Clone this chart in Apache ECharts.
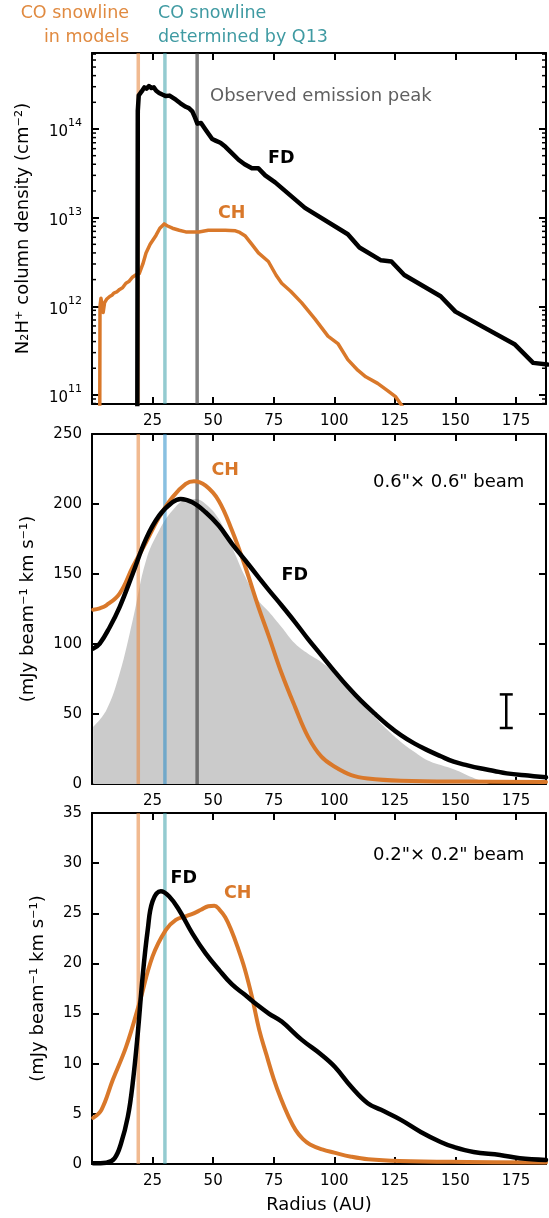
<!DOCTYPE html>
<html><head><meta charset="utf-8">
<script src="https://cdn.jsdelivr.net/npm/echarts@6/dist/echarts.min.js"></script>
<style>html,body{margin:0;padding:0;background:#fff}#c{width:549px;height:1218px}</style>
</head><body><div id="c"></div>
<script>
// ---------- data ----------
const X_MIN = 0, X_MAX = 187.4;
const snowlineModels = 19.1;   // AU
const snowlineQ13 = 30.1;      // AU
const observedPeak = 43.4;     // AU

// Panel 1: N2H+ column density (cm^-2)
const fdColR = [18.7, 18.9, 19.3, 20.5, 21.6, 22.5, 23.5, 24.5, 25.5, 26.5, 27.7, 29, 30.5, 32, 34.6, 36.5, 38.7, 40, 41.4, 42.5, 43.5, 45, 46.9, 49.6, 51, 53, 55.1, 57, 60.5, 63, 66, 68.7, 71.5, 75.6, 87.9, 105.6, 110.4, 119.3, 123.6, 128.9, 143.9, 150, 174.6, 182.1, 188];
const fdColN = [5e10, 1.6e14, 2.4e14, 2.65e14, 2.95e14, 2.85e14, 3.05e14, 2.9e14, 2.95e14, 2.7e14, 2.55e14, 2.45e14, 2.35e14, 2.38e14, 2.14e14, 1.95e14, 1.78e14, 1.72e14, 1.58e14, 1.35e14, 1.15e14, 1.17e14, 9.8e13, 7.7e13, 7.4e13, 7.0e13, 6.3e13, 5.6e13, 4.5e13, 4.0e13, 3.6e13, 3.6e13, 3.0e13, 2.5e13, 1.29e13, 6.5e12, 4.6e12, 3.3e12, 3.2e12, 2.25e12, 1.3e12, 8.7e11, 3.7e11, 2.3e11, 2.2e11];
const chColR = [3.2, 3.3, 3.7, 4.2, 4.6, 5.2, 6, 7.3, 8.2, 9, 10.2, 11.4, 12.6, 14, 15.2, 16.8, 18.5, 19.5, 21, 22.3, 24, 26.4, 28, 29.8, 31, 33.2, 36, 38.7, 44.1, 48, 51, 55, 59.2, 61, 63.3, 66, 68.7, 72.8, 76, 78.3, 82, 86.5, 92, 97.4, 101.5, 105.6, 109.7, 113, 117.9, 122, 125.4, 128];
const chColN = [5e10, 1.0e12, 1.23e12, 1.0e12, 8.5e11, 1.1e12, 1.2e12, 1.29e12, 1.33e12, 1.41e12, 1.45e12, 1.55e12, 1.62e12, 1.82e12, 1.9e12, 2.14e12, 2.3e12, 2.34e12, 3.0e12, 4.0e12, 5.0e12, 6.3e12, 7.6e12, 8.5e12, 8.1e12, 7.6e12, 7.2e12, 6.9e12, 6.9e12, 7.2e12, 7.2e12, 7.2e12, 7.1e12, 6.8e12, 6.2e12, 5.0e12, 4.0e12, 3.2e12, 2.24e12, 1.82e12, 1.48e12, 1.1e12, 7.2e11, 4.6e11, 3.8e11, 2.5e11, 1.9e11, 1.6e11, 1.35e11, 1.12e11, 0.95e11, 7.5e10];
const logMinorTicks = [8e10, 9e10, 2e11, 3e11, 4e11, 5e11, 6e11, 7e11, 8e11, 9e11, 2e12, 3e12, 4e12, 5e12, 6e12, 7e12, 8e12, 9e12, 2e13, 3e13, 4e13, 5e13, 6e13, 7e13, 8e13, 9e13, 2e14, 3e14, 4e14, 5e14, 6e14, 7e14];

// Panel 2: 0.6" x 0.6" beam (mJy beam^-1 km s^-1)
const obsR = [0.5, 5.9, 11.4, 16.8, 22.3, 27.7, 33.2, 38.7, 42.8, 46.9, 52.3, 57.8, 63.3, 68.7, 73, 78.3, 83.8, 89.2, 94.7, 100.2, 105.6, 111, 116.6, 122, 127.5, 133, 138.4, 144, 149.3, 154, 158, 162, 165, 187.4];
const obsV = [40.8, 52.7, 78.9, 117, 159.7, 181, 195.3, 203, 203.6, 200, 189.4, 169.1, 147.8, 131.1, 123, 112, 100.3, 93, 87, 79, 69, 58, 48, 38.5, 30, 23, 17, 13.5, 10.5, 7, 4, 1.5, 0, 0];
const fd06R = [0.5, 3.2, 7.3, 11.4, 16.8, 22.3, 27.7, 33.2, 36.6, 41.4, 46.9, 52.3, 57.8, 63.3, 68.7, 73, 78.3, 83.8, 89.2, 94.7, 100.2, 105.6, 111, 116.6, 122, 127.5, 133, 138.4, 144, 149.3, 155, 160.2, 166, 171.2, 180, 187.4];
const fd06V = [96.7, 100.3, 112, 126.4, 150.2, 175.1, 191.7, 201.2, 203.6, 201.2, 194.1, 184.6, 171.6, 159.7, 147.8, 138.5, 127.5, 115.7, 103.5, 91.9, 80.3, 69.4, 59.5, 50.4, 42.2, 34.9, 29, 24.2, 19.8, 15.9, 13.3, 11.2, 9.3, 7.6, 6.0, 4.8];
const ch06R = [0.5, 3.2, 5.9, 11.4, 16.8, 22.3, 27.7, 33.2, 38.7, 42.1, 46.9, 52.3, 57.8, 63.3, 68.7, 73, 78.3, 83.8, 89.2, 94.7, 100.2, 107, 113.8, 127.5, 154.8, 187.4];
const ch06V = [124.5, 125.5, 127.6, 136, 155, 172.7, 190.5, 204.8, 214.3, 216.2, 213.1, 202.4, 181, 155, 126.4, 105.5, 78.9, 55.1, 33.7, 19.5, 12.3, 6.4, 4, 2.4, 1.7, 1.5];
const errBarR = 171, errBarLow = 40, errBarHigh = 64;

// Panel 3: 0.2" x 0.2" beam (mJy beam^-1 km s^-1)
const fd02R = [0.5, 5.9, 9.3, 12, 14.8, 16.8, 18.9, 20.9, 23, 25, 28.4, 31.8, 35.9, 41.4, 46.9, 52.3, 57.8, 63, 68, 73, 78.3, 86.5, 94.7, 100.2, 107, 113.8, 119.3, 127.5, 135.7, 143.9, 149.3, 157.5, 168.4, 176.6, 187.4];
const fd02V = [0.07, 0.13, 0.57, 2.07, 4.72, 8.05, 13.04, 18.7, 23.35, 26.2, 27.2, 26.7, 25.35, 23.0, 21.0, 19.4, 17.9, 16.9, 15.9, 15.0, 14.2, 12.4, 10.9, 9.7, 7.7, 6.06, 5.4, 4.4, 3.2, 2.2, 1.7, 1.2, 0.9, 0.57, 0.4];
const ch02R = [0.5, 3.9, 8.6, 14.1, 19.5, 25, 30.5, 34.6, 38.7, 42, 45, 48, 50.5, 52.5, 55, 57.5, 60, 63, 66, 69, 72, 75, 78, 81, 84, 87, 90, 95, 100, 107, 114, 127, 155, 187.4];
const ch02V = [4.6, 5.4, 8.4, 11.7, 16.0, 20.7, 23.35, 24.35, 24.7, 25.0, 25.35, 25.7, 25.75, 25.4, 24.6, 23.3, 21.7, 19.5, 16.7, 13.4, 10.9, 8.5, 6.5, 4.8, 3.4, 2.5, 1.95, 1.45, 1.13, 0.73, 0.47, 0.3, 0.2, 0.15];

// ---------- styling ----------
const FONT = 'DejaVu Sans';
const ORANGE = '#d9782a';
const C_OR_LINE = 'rgba(232,140,70,0.6)';
const C_TEAL_LINE = 'rgba(60,160,170,0.55)';
const C_BLUE_LINE = 'rgba(40,140,200,0.55)';
const C_GRAY_LINE = 'rgba(60,60,60,0.65)';

const zip = (a, b) => a.map((v, i) => [v, b[i]]);
const grids = [
  {left: 92, top: 53, width: 458, height: 351},
  {left: 92, top: 434, width: 458, height: 350},
  {left: 92, top: 813, width: 458, height: 351}
];
const axisLineStyle = {show: true, onZero: false, lineStyle: {color: '#000', width: 2}};
const tickStyle = {show: true, inside: true, length: 7, lineStyle: {color: '#000', width: 2}};

const xAxes = [];
grids.forEach((g, i) => {
  xAxes.push({
    type: 'value', gridIndex: i, min: X_MIN, max: X_MAX, interval: 25, position: 'bottom',
    axisLine: axisLineStyle, axisTick: tickStyle, splitLine: {show: false},
    axisLabel: {margin: 10, fontSize: 15, color: '#000', fontFamily: FONT,
      formatter: v => (v > 0 && Math.abs(v % 25) < 1e-6) ? String(v) : ''},
    name: i === 2 ? 'Radius (AU)' : '', nameLocation: 'middle', nameGap: 32,
    nameTextStyle: {fontSize: 18, color: '#000', fontFamily: FONT}
  });
  xAxes.push({
    type: 'value', gridIndex: i, min: X_MIN, max: X_MAX, interval: 25, position: 'top',
    axisLine: axisLineStyle, axisTick: tickStyle, splitLine: {show: false}, axisLabel: {show: false}
  });
});

const logFmt = v => {
  const e = Math.log10(v), r = Math.round(e);
  if (Math.abs(e - r) > 0.01) return '';
  return '{b|10}{s|' + r + '}';
};

const yAxes = [
  {type: 'log', logBase: 10, gridIndex: 0, min: 7.9e10, max: 7.2e14, position: 'left',
   axisLine: axisLineStyle, axisTick: tickStyle, splitLine: {show: false}, minorTick: {show: false},
   axisLabel: {margin: 10, formatter: logFmt, color: '#000', fontFamily: FONT,
     rich: {b: {fontSize: 15, fontFamily: FONT, color: '#000', verticalAlign: 'bottom', lineHeight: 22},
            s: {fontSize: 11, fontFamily: FONT, color: '#000', verticalAlign: 'top', lineHeight: 22}}},
   name: 'N₂H⁺ column density (cm⁻²)', nameLocation: 'middle', nameGap: 60,
   nameTextStyle: {fontSize: 18, color: '#000', fontFamily: FONT}},
  {type: 'log', logBase: 10, gridIndex: 0, min: 7.9e10, max: 7.2e14, position: 'right',
   axisLine: axisLineStyle, axisTick: tickStyle, splitLine: {show: false}, axisLabel: {show: false}},
  {type: 'value', gridIndex: 1, min: 0, max: 250, interval: 50, position: 'left',
   axisLine: axisLineStyle, axisTick: tickStyle, splitLine: {show: false},
   axisLabel: {margin: 10, fontSize: 15, color: '#000', fontFamily: FONT},
   name: '(mJy beam⁻¹ km s⁻¹)', nameLocation: 'middle', nameGap: 55,
   nameTextStyle: {fontSize: 18, color: '#000', fontFamily: FONT}},
  {type: 'value', gridIndex: 1, min: 0, max: 250, interval: 50, position: 'right',
   axisLine: axisLineStyle, axisTick: tickStyle, splitLine: {show: false}, axisLabel: {show: false}},
  {type: 'value', gridIndex: 2, min: 0, max: 35, interval: 5, position: 'left',
   axisLine: axisLineStyle, axisTick: tickStyle, splitLine: {show: false},
   axisLabel: {margin: 10, fontSize: 15, color: '#000', fontFamily: FONT},
   name: '(mJy beam⁻¹ km s⁻¹)', nameLocation: 'middle', nameGap: 45,
   nameTextStyle: {fontSize: 18, color: '#000', fontFamily: FONT}},
  {type: 'value', gridIndex: 2, min: 0, max: 35, interval: 5, position: 'right',
   axisLine: axisLineStyle, axisTick: tickStyle, splitLine: {show: false}, axisLabel: {show: false}}
];

function vline(x, color, panel, ymin, ymax, width) {
  return {type: 'line', xAxisIndex: panel * 2, yAxisIndex: panel * 2, data: [[x, ymin], [x, ymax]],
    symbol: 'none', silent: true, animation: false, z: 2,
    lineStyle: {color: color, width: width || 3.5}};
}
function curve(r, v, color, width, panel, smooth, z) {
  return {type: 'line', xAxisIndex: panel * 2, yAxisIndex: panel * 2, data: zip(r, v),
    symbol: 'none', silent: true, animation: false, smooth: smooth,
    z: z || 3, lineStyle: {color: color, width: width, join: 'round', cap: 'round'}};
}

const series = [
  // panel 1
  vline(snowlineModels, C_OR_LINE, 0, 7.9e10, 7.2e14),
  vline(snowlineQ13, C_TEAL_LINE, 0, 7.9e10, 7.2e14),
  vline(observedPeak, C_GRAY_LINE, 0, 7.9e10, 7.2e14),
  {type: 'custom', xAxisIndex: 0, yAxisIndex: 0, silent: true, animation: false, z: 5,
   data: logMinorTicks.map(v => [0, v]),
   renderItem: (params, api) => {
     const p = api.coord([0, api.value(1)]);
     const cs = params.coordSys;
     const l = cs.x, r = cs.x + cs.width;
     return {type: 'group', children: [
       {type: 'line', shape: {x1: l, y1: p[1], x2: l + 4, y2: p[1]}, style: {stroke: '#000', lineWidth: 1.5}},
       {type: 'line', shape: {x1: r - 4, y1: p[1], x2: r, y2: p[1]}, style: {stroke: '#000', lineWidth: 1.5}}
     ]};
   }},
  curve(chColR, chColN, ORANGE, 3.5, 0, false, 3),
  curve(fdColR, fdColN, '#000', 4.5, 0, false, 4),
  // panel 2
  {type: 'line', xAxisIndex: 2, yAxisIndex: 2, data: zip(obsR, obsV), symbol: 'none', silent: true,
   animation: false, smooth: 0.4, z: 1,
   lineStyle: {width: 0, color: '#cbcbcb'}, areaStyle: {color: '#cbcbcb', opacity: 1}},
  vline(snowlineModels, C_OR_LINE, 1, 0, 250),
  vline(snowlineQ13, C_BLUE_LINE, 1, 0, 250),
  vline(observedPeak, C_GRAY_LINE, 1, 0, 250),
  curve(ch06R, ch06V, ORANGE, 4, 1, 0.4, 3),
  curve(fd06R, fd06V, '#000', 4.5, 1, 0.4, 4),
  {type: 'custom', xAxisIndex: 2, yAxisIndex: 2, silent: true, animation: false, z: 5,
   data: [[errBarR, errBarLow, errBarHigh]],
   renderItem: (params, api) => {
     const lo = api.coord([api.value(0), api.value(1)]);
     const hi = api.coord([api.value(0), api.value(2)]);
     const s = {stroke: '#000', lineWidth: 2.5};
     return {type: 'group', children: [
       {type: 'line', shape: {x1: lo[0], y1: lo[1], x2: hi[0], y2: hi[1]}, style: s},
       {type: 'line', shape: {x1: lo[0] - 6.5, y1: lo[1], x2: lo[0] + 6.5, y2: lo[1]}, style: s},
       {type: 'line', shape: {x1: hi[0] - 6.5, y1: hi[1], x2: hi[0] + 6.5, y2: hi[1]}, style: s}
     ]};
   }},
  // panel 3
  vline(snowlineModels, C_OR_LINE, 2, 0, 35),
  vline(snowlineQ13, C_TEAL_LINE, 2, 0, 35),
  curve(ch02R, ch02V, ORANGE, 4, 2, 0.4, 3),
  curve(fd02R, fd02V, '#000', 4.5, 2, 0.4, 4)
];

function txt(text, x, y, color, size, weight, align, extra) {
  return Object.assign({type: 'text', x: x, y: y, silent: true, z: 10,
    style: Object.assign({text: text, fill: color, font: (weight || 'normal') + ' ' + size + 'px "' + FONT + '"',
      textAlign: align || 'left', align: align || 'left', textVerticalAlign: 'middle', verticalAlign: 'middle'}, extra || {})});
}

const graphic = [
  txt('CO snowline\nin models', 129, 2, '#e08a40', 17.5, 'normal', 'right', {textVerticalAlign: 'top', verticalAlign: 'top', lineHeight: 23.5}),
  txt('CO snowline\ndetermined by Q13', 158, 2, '#3f9aa2', 17.5, 'normal', 'left', {textVerticalAlign: 'top', verticalAlign: 'top', lineHeight: 23.5}),
  txt('Observed emission peak', 210, 96.5, '#606060', 18),
  txt('FD', 268, 158, '#000', 17.5, 'bold'),
  txt('CH', 218, 213, ORANGE, 17.5, 'bold'),
  txt('CH', 211.5, 470, ORANGE, 17.5, 'bold'),
  txt('FD', 281.5, 575, '#000', 17.5, 'bold'),
  txt('0.6"× 0.6" beam', 373, 482, '#000', 18),
  txt('FD', 170.5, 878, '#000', 17.5, 'bold'),
  txt('CH', 224, 893, ORANGE, 17.5, 'bold'),
  txt('0.2"× 0.2" beam', 373, 855, '#000', 18)
];

const chart = echarts.init(document.getElementById('c'), null, {renderer: 'canvas'});
chart.setOption({
  animation: false,
  backgroundColor: '#fff',
  textStyle: {fontFamily: FONT},
  grid: grids,
  xAxis: xAxes,
  yAxis: yAxes,
  series: series,
  graphic: graphic
});
</script>
</body></html>
